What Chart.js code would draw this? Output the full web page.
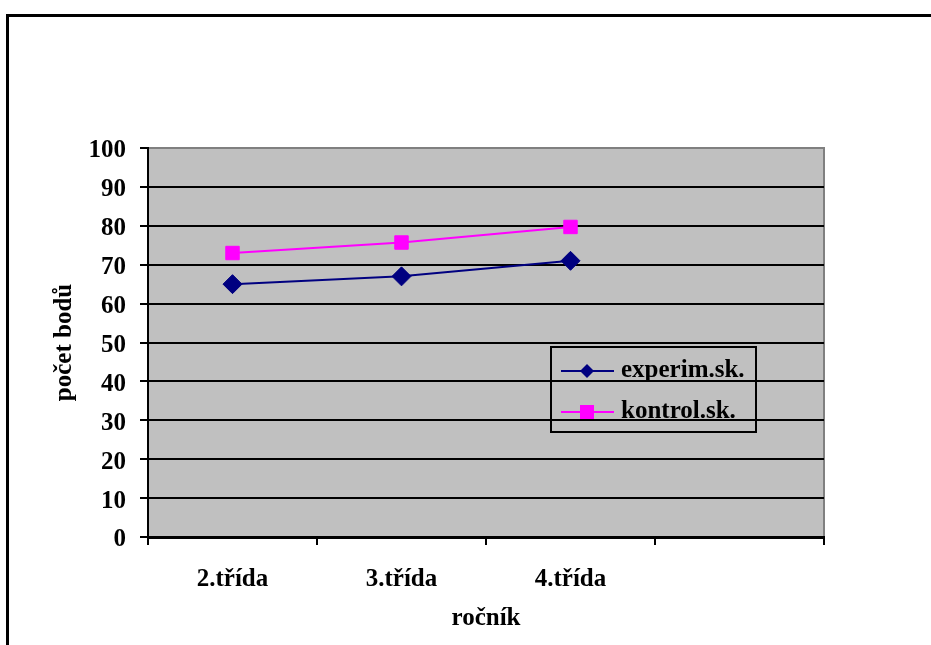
<!DOCTYPE html>
<html>
<head>
<meta charset="utf-8">
<script src="https://cdn.jsdelivr.net/npm/chart.js@4/dist/chart.umd.min.js"></script>
<style>
  html, body { margin: 0; padding: 0; background: #fff; }
  #wrap { width: 931px; height: 645px; }
</style>
</head>
<body>
<div id="wrap"><canvas id="rocnikChart" width="931" height="645"></canvas></div>
<script>
// data
const categories = ["2.třída", "3.třída", "4.třída", ""];
const experimValues = [65, 67, 71];
const kontrolValues = [73, 75.7, 79.7];
const seriesNames = ["experim.sk.", "kontrol.sk."];
const yTitle = "počet bodů";
const xTitle = "ročník";

const FONT = "'Liberation Serif', 'Times New Roman', serif";
const PLOT_BG = "#C0C0C0";

// gray plot background, outer frame and a legend box drawn over the plot
const excelLook = {
  id: "excelLook",
  beforeDraw(chart) {
    const { ctx, chartArea: a } = chart;
    ctx.save();
    ctx.fillStyle = "#fff";
    ctx.fillRect(0, 0, chart.width, chart.height);
    ctx.fillStyle = PLOT_BG;
    ctx.fillRect(a.left, a.top, a.right - a.left, a.bottom - a.top);
    // gray border top / right
    ctx.strokeStyle = "#808080";
    ctx.lineWidth = 2;
    ctx.beginPath();
    ctx.moveTo(a.left, a.top);
    ctx.lineTo(a.right, a.top);
    ctx.lineTo(a.right, a.bottom);
    ctx.stroke();
    ctx.restore();
  },
  afterDraw(chart) {
    const { ctx, chartArea: a } = chart;
    ctx.save();
    // outer frame, runs off the right and bottom edges
    ctx.strokeStyle = "#000";
    ctx.lineWidth = 3;
    ctx.strokeRect(7.5, 15.5, chart.width + 20, chart.height + 20);

    // legend
    const lx = a.left + 403, ly = a.top + 199, lw = 205, lh = 85;
    ctx.lineWidth = 2;
    ctx.strokeRect(lx, ly, lw, lh);
    chart.data.datasets.forEach((ds, i) => {
      const y = ly + 24 + i * 41;
      ctx.strokeStyle = ds.borderColor;
      ctx.lineWidth = 2;
      ctx.beginPath();
      ctx.moveTo(lx + 10, y);
      ctx.lineTo(lx + 63, y);
      ctx.stroke();
      ctx.fillStyle = ds.pointBackgroundColor;
      const mx = lx + 36;
      ctx.beginPath();
      if (ds.pointStyle === "rectRot") {
        ctx.moveTo(mx, y - 7);
        ctx.lineTo(mx + 7, y);
        ctx.lineTo(mx, y + 7);
        ctx.lineTo(mx - 7, y);
        ctx.closePath();
      } else {
        ctx.rect(mx - 7, y - 7, 14, 14);
      }
      ctx.fill();
      ctx.fillStyle = "#000";
      ctx.font = "bold 25px " + FONT;
      ctx.textBaseline = "middle";
      ctx.textAlign = "left";
      ctx.fillText(ds.label, lx + 70, y);
    });
    ctx.restore();
  },
};

const ctx = document.getElementById("rocnikChart").getContext("2d");
new Chart(ctx, {
  type: "line",
  data: {
    labels: categories,
    datasets: [
      {
        label: seriesNames[0],
        data: experimValues,
        borderColor: "#000080",
        backgroundColor: "#000080",
        pointBackgroundColor: "#000080",
        pointBorderColor: "#000080",
        pointStyle: "rectRot",
        pointRadius: 9.5,
        pointBorderWidth: 1,
        borderWidth: 2,
        tension: 0,
      },
      {
        label: seriesNames[1],
        data: kontrolValues,
        borderColor: "#FF00FF",
        backgroundColor: "#FF00FF",
        pointBackgroundColor: "#FF00FF",
        pointBorderColor: "#FF00FF",
        pointStyle: "rect",
        pointRadius: 9.5,
        pointBorderWidth: 1,
        borderWidth: 2,
        tension: 0,
      },
    ],
  },
  options: {
    responsive: false,
    animation: false,
    layout: { padding: { left: 50, top: 148, right: 107, bottom: 8 } },
    plugins: {
      legend: { display: false },
      tooltip: { enabled: false },
    },
    scales: {
      x: {
        offset: true,
        grid: {
          offset: true,
          drawOnChartArea: false,
          drawTicks: true,
          tickLength: 8,
          tickColor: "#000",
          lineWidth: 2,
        },
        border: { color: "#000", width: 3 },
        ticks: {
          color: "#000",
          padding: 20,
          maxRotation: 0,
          autoSkip: false,
          font: { family: FONT, size: 25, weight: "bold" },
        },
        title: {
          display: true,
          text: xTitle,
          color: "#000",
          padding: { top: 0, bottom: 3 },
          font: { family: FONT, size: 25, weight: "bold" },
        },
        afterFit(scale) { scale.height = 100; },
      },
      y: {
        min: 0,
        max: 100,
        grid: {
          color: (c) => (c.tick && c.tick.value === 100 ? "#808080" : "#000"),
          tickColor: "#000",
          lineWidth: 2,
          tickLength: 8,
        },
        border: { color: "#000", width: 2 },
        ticks: {
          stepSize: 10,
          color: "#000",
          padding: 14,
          labelOffset: 3,
          font: { family: FONT, size: 25, weight: "bold" },
        },
        title: {
          display: true,
          text: yTitle,
          color: "#000",
          padding: { top: 0, bottom: 0 },
          font: { family: FONT, size: 25, weight: "bold" },
        },
        afterFit(scale) { scale.width = 98; },
      },
    },
  },
  plugins: [excelLook],
});
</script>
</body>
</html>
